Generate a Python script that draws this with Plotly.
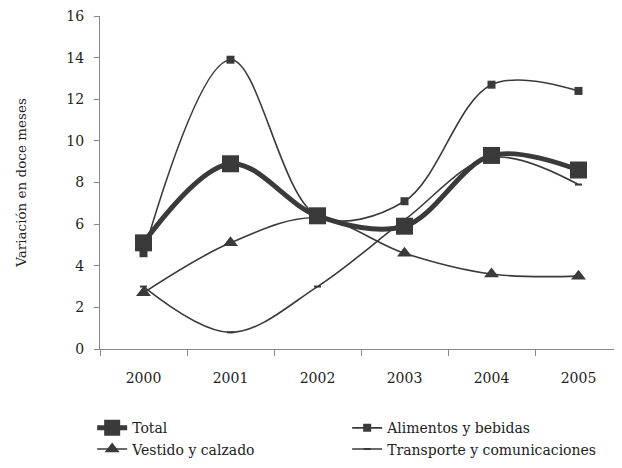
import plotly.graph_objects as go

years = ["2000", "2001", "2002", "2003", "2004", "2005"]
total = [5.1, 8.9, 6.4, 5.9, 9.3, 8.6]
alimentos = [4.6, 13.9, 6.4, 7.1, 12.7, 12.4]
vestido = [2.7, 5.1, 6.3, 4.6, 3.6, 3.5]
transporte = [3.0, 0.8, 3.0, 6.2, 9.2, 7.9]

C = "#3a3a3a"
FONT = "DejaVu Serif"
TXT = "#222222"

fig = go.Figure()
fig.add_trace(go.Scatter(x=years, y=total, name="Total", mode="lines+markers",
    line=dict(color=C, width=5, shape="spline", smoothing=1.0),
    marker=dict(symbol="square", size=17, color=C)))
fig.add_trace(go.Scatter(x=years, y=alimentos, name="Alimentos y bebidas", mode="lines+markers",
    line=dict(color=C, width=1.6, shape="spline", smoothing=1.0),
    marker=dict(symbol="square", size=8, color=C)))
fig.add_trace(go.Scatter(x=years, y=vestido, name="Vestido y calzado", mode="lines+markers",
    line=dict(color=C, width=1.6, shape="spline", smoothing=1.0),
    marker=dict(symbol="triangle-up", size=13, color=C)))
fig.add_trace(go.Scatter(x=years, y=transporte, name="Transporte y comunicaciones", mode="lines+markers",
    line=dict(color=C, width=1.6, shape="spline", smoothing=1.0),
    marker=dict(symbol="line-ew", size=5, color=C, line=dict(color=C, width=2))))

fig.update_layout(
    width=614, height=460,
    margin=dict(l=92, r=0, t=8, b=119, autoexpand=False),
    paper_bgcolor="white", plot_bgcolor="white",
    font=dict(family=FONT, size=14, color=TXT),
    showlegend=True,
    legend=dict(orientation="h", x=-0.015, y=-0.19, xanchor="left", yanchor="top",
                entrywidth=210, entrywidthmode="pixels", tracegroupgap=0,
                font=dict(family=FONT, size=14, color=TXT), traceorder="normal"),
)
fig.update_xaxes(type="category", range=[-0.5, 5.5], showline=True, linecolor="#888888", linewidth=1,
    ticks="outside", tickson="boundaries", ticklen=6, tickcolor="#888888", automargin=False,
    showgrid=False, zeroline=False, tickfont=dict(size=14, family=FONT, color=TXT),
    ticklabelstandoff=16)
fig.update_yaxes(range=[0, 16], dtick=2, showline=True, linecolor="#888888", linewidth=1,
    ticks="outside", ticklen=5, tickcolor="#888888", showgrid=False, zeroline=False, automargin=False,
    ticklabeloverflow="allow",
    tickfont=dict(size=14, family=FONT, color=TXT), ticklabelstandoff=7,
    title=dict(text="Variación en doce meses", font=dict(size=13.5, family=FONT, color=TXT), standoff=36))

fig.write_html("out.html")
